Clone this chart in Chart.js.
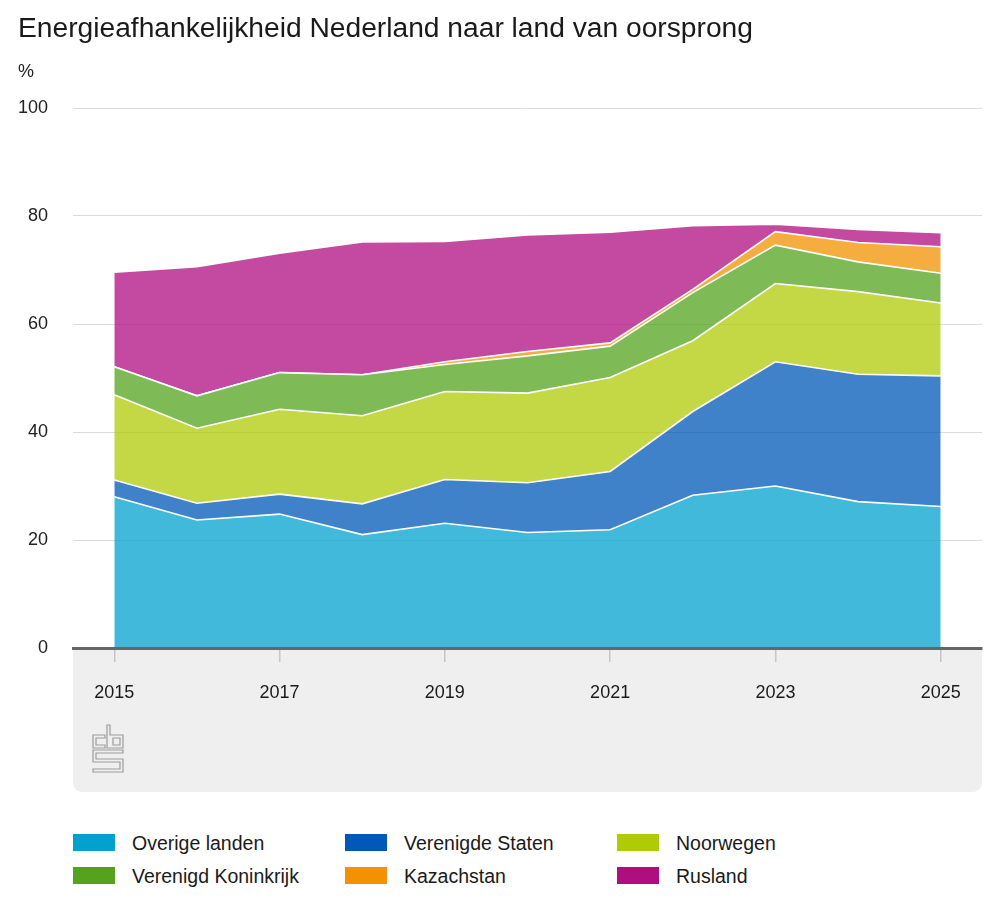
<!DOCTYPE html>
<html lang="nl">
<head>
<meta charset="utf-8">
<title>Energieafhankelijkheid Nederland naar land van oorsprong</title>
<script src="https://cdn.jsdelivr.net/npm/chart.js@4.4.1/dist/chart.umd.min.js"></script>
<style>
  body { margin: 0; background: #fff; font-family: "Liberation Sans", Arial, sans-serif; color: #1a1a1a }
  #wrap { position: relative; width: 999px; height: 916px; overflow: hidden }
  #titel { position: absolute; left: 18px; top: 10px; margin: 0; font-size: 28.2px; line-height: 34px; font-weight: normal; white-space: nowrap }
  #eenheid { position: absolute; left: 18px; top: 62px; font-size: 18px; line-height: 18px; color: #222 }
  #grafiek { position: absolute; left: 0; top: 0 }
  .item { position: absolute; height: 18px; font-size: 19.5px; line-height: 18px; white-space: nowrap; color: #1a1a1a }
  .blok { position: absolute; left: 0; top: 0; width: 42px; height: 17px }
  .tekst { position: absolute; left: 59px; top: 0 }
</style>
</head>
<body>
<div id="wrap">
  <canvas id="grafiek" width="999" height="800"></canvas>
  <h1 id="titel">Energieafhankelijkheid Nederland naar land van oorsprong</h1>
  <div id="eenheid">%</div>
  <div id="legenda"></div>
</div>
<script>
// Jaren op de x-as
const jaren = ["2015", "2016", "2017", "2018", "2019", "2020", "2021", "2022", "2023", "2024", "2025"]

// Aandeel per land (%), gestapeld
const overigeLanden = [28.0, 23.7, 24.8, 21.0, 23.1, 21.4, 21.9, 28.3, 30.0, 27.1, 26.2]
const verenigdeStaten = [3.1, 3.1, 3.7, 5.7, 8.1, 9.2, 10.8, 15.5, 23.0, 23.6, 24.2]
const noorwegen = [15.8, 13.9, 15.7, 16.3, 16.3, 16.6, 17.4, 13.1, 14.5, 15.3, 13.5]
const verenigdKoninkrijk = [5.2, 6.0, 6.8, 7.6, 5.0, 6.9, 5.8, 8.9, 7.1, 5.5, 5.5]
const kazachstan = [0, 0, 0, 0, 0.5, 0.8, 0.6, 0.6, 2.5, 3.6, 4.9]
const rusland = [17.5, 23.9, 22.1, 24.6, 22.3, 21.6, 20.5, 11.8, 1.4, 2.4, 2.6]

// Labels van de y-as
const yTicks = [0, 20, 40, 60, 80, 100]

const reeksen = [
  { naam: "Overige landen", data: overigeLanden, kleur: [0, 161, 205] },
  { naam: "Verenigde Staten", data: verenigdeStaten, kleur: [0, 88, 184] },
  { naam: "Noorwegen", data: noorwegen, kleur: [175, 203, 5] },
  { naam: "Verenigd Koninkrijk", data: verenigdKoninkrijk, kleur: [83, 163, 29] },
  { naam: "Kazachstan", data: kazachstan, kleur: [243, 146, 0] },
  { naam: "Rusland", data: rusland, kleur: [175, 14, 128] },
]

const lettertype = '"Liberation Sans", Arial, sans-serif'
Chart.defaults.font.family = lettertype

function rgba(k, a) {
  return `rgba(${k[0]}, ${k[1]}, ${k[2]}, ${a})`
}

// Grijs vlak onder de x-as met het CBS-logo
const achtergrondPlugin = {
  id: "achtergrond",
  beforeDraw(chart) {
    const { ctx, chartArea } = chart
    const links = chartArea.left
    const boven = chartArea.bottom
    ctx.save()
    ctx.fillStyle = "#efefef"
    ctx.beginPath()
    ctx.roundRect(links, boven, chartArea.right - links, 792 - boven, [0, 0, 9, 9])
    ctx.fill()

    // logo (cbs)
    const x = links + 20
    const y = boven + 77
    ctx.strokeStyle = "#9b9b9b"
    ctx.lineWidth = 1.2
    const vorm = (punten) => {
      ctx.beginPath()
      punten.forEach((p, i) => (i === 0 ? ctx.moveTo(x + p[0], y + p[1]) : ctx.lineTo(x + p[0], y + p[1])))
      ctx.closePath()
      ctx.stroke()
    }
    vorm([[12, 10], [0, 10], [0, 23], [12, 23], [12, 20], [3, 20], [3, 13], [12, 13]])
    vorm([[14, 0], [17, 0], [17, 10], [30, 10], [30, 23], [14, 23]])
    vorm([[20, 13], [27, 13], [27, 20], [20, 20]])
    vorm([[0, 25], [30, 25], [30, 28], [3, 28], [3, 34], [30, 34], [30, 47], [0, 47], [0, 44], [27, 44], [27, 37], [0, 37]])
    ctx.restore()
  },
}

const datasets = reeksen.map((r, i) => ({
  label: r.naam,
  data: r.data,
  backgroundColor: rgba(r.kleur, 0.75),
  borderColor: "#ffffff",
  borderWidth: 1.6,
  fill: i === 0 ? "origin" : "-1",
  pointRadius: 0,
  tension: 0,
}))

new Chart(document.getElementById("grafiek"), {
  type: "line",
  data: { labels: jaren, datasets: datasets },
  options: {
    responsive: false,
    animation: false,
    layout: { padding: { top: 108, right: 17, left: 0, bottom: 0 } },
    plugins: { legend: { display: false }, tooltip: { enabled: false } },
    scales: {
      x: {
        offset: true,
        grid: {
          offset: false,
          drawOnChartArea: false,
          tickLength: 14,
          lineWidth: 1.5,
          color: (c) => (c.index % 2 === 0 ? "#c6c6c6" : "rgba(0,0,0,0)"),
        },
        border: { display: true, color: "#666666", width: 3, z: 1 },
        ticks: {
          autoSkip: false,
          maxRotation: 0,
          padding: 20,
          color: "#1a1a1a",
          font: { size: 18 },
          callback: (v, i) => (i % 2 === 0 ? jaren[i] : ""),
        },
        afterFit(scale) {
          scale.height = 152
        },
      },
      y: {
        stacked: true,
        min: yTicks[0],
        max: yTicks[yTicks.length - 1],
        afterBuildTicks(scale) {
          scale.ticks = yTicks.map((v) => ({ value: v }))
        },
        grid: { color: "#dcdcdc", lineWidth: 1, drawTicks: false },
        border: { display: false },
        ticks: { padding: 25, color: "#222", font: { size: 18 } },
        afterFit(scale) {
          scale.width = 73
        },
      },
    },
  },
  plugins: [achtergrondPlugin],
})

// Legenda in drie kolommen
const legenda = document.getElementById("legenda")
const kolommen = [73, 345, 617]
const rijen = [834, 867]
reeksen.forEach((r, i) => {
  const item = document.createElement("div")
  item.className = "item"
  item.style.left = kolommen[i % 3] + "px"
  item.style.top = rijen[Math.floor(i / 3)] + "px"
  item.innerHTML = `<span class="blok" style="background:${rgba(r.kleur, 1)}"></span><span class="tekst">${r.naam}</span>`
  legenda.appendChild(item)
})
</script>
</body>
</html>
